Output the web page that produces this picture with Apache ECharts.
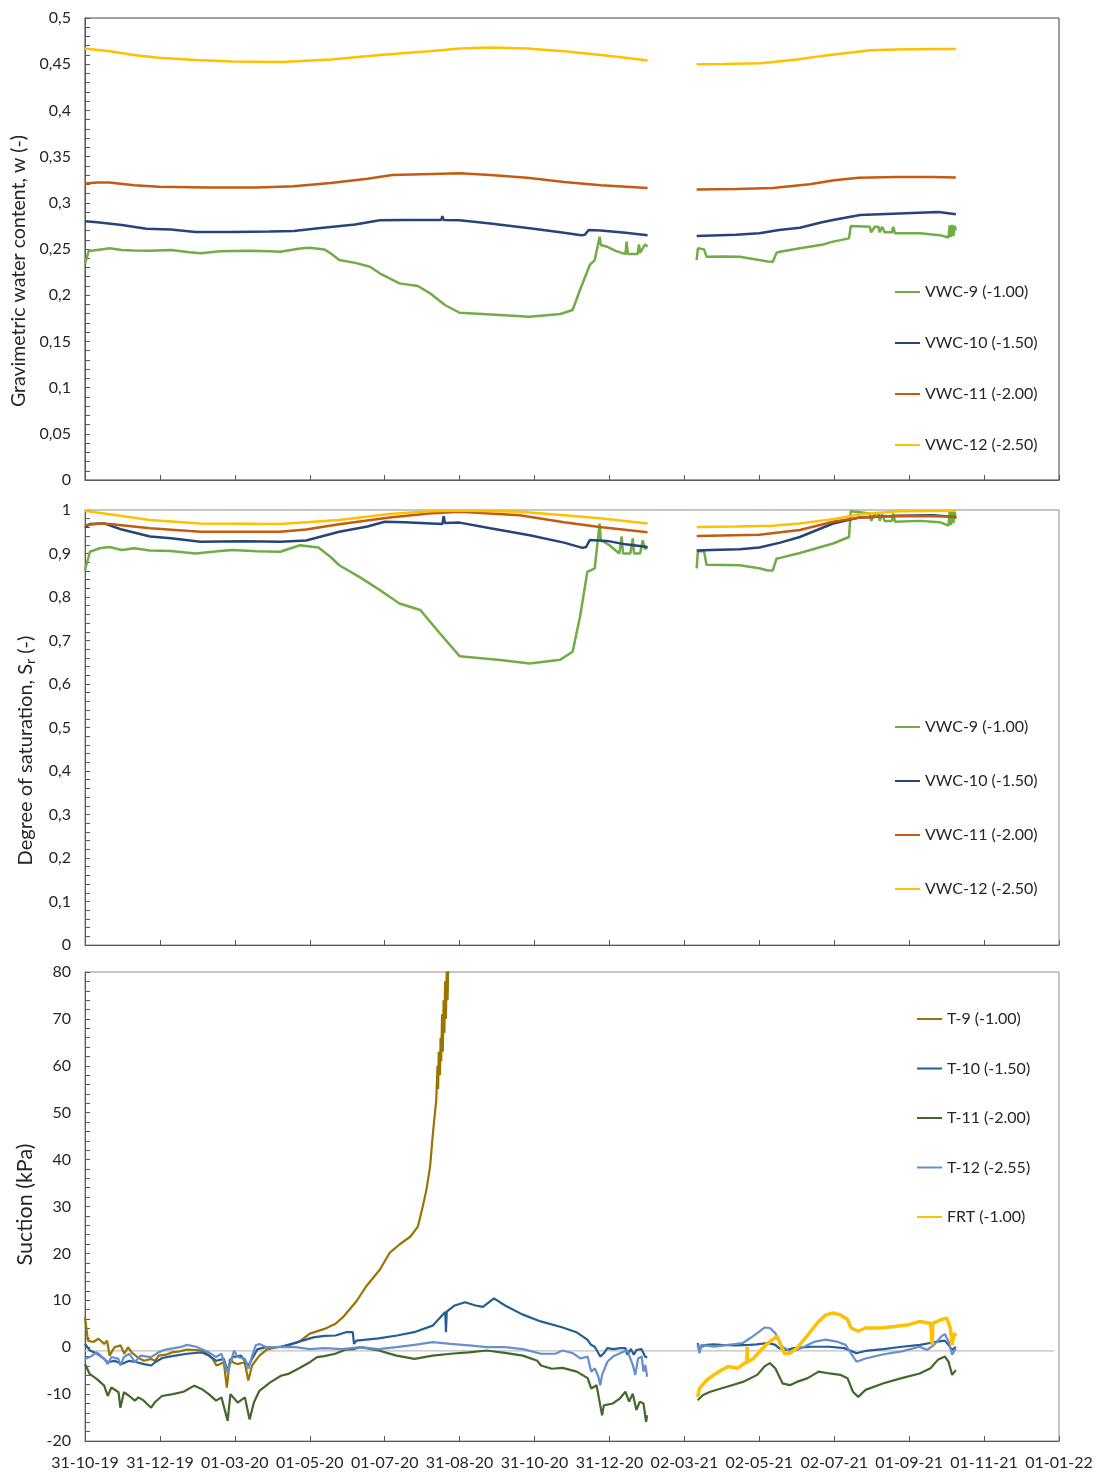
<!DOCTYPE html>
<html>
<head>
<meta charset="utf-8">
<title>Water content, saturation and suction</title>
<script src="https://cdn.jsdelivr.net/npm/echarts@6/dist/echarts.min.js"></script>
<style>
  html, body { margin: 0; padding: 0; background: #ffffff; }
  #chart { width: 1106px; height: 1475px; }
</style>
</head>
<body>
<div id="chart"></div>
<script>
// x values are days counted from 31-10-2019
const DAY0 = Date.UTC(2019, 9, 31);
const X_MAX = 793;          // 01-01-2022
const X_STEP = 61;          // tick spacing in days
const GAP_DAY = 478;        // logger outage between the two records

// ---- Gravimetric water content, w (-) : [day, w]
const wVWC9a = [[0,0.234],[3,0.2478],[10,0.249],[20,0.2507],[30,0.249],[40,0.2485],[53,0.248],[70,0.249],[85,0.2465],[94,0.2453],[110,0.2475],[134,0.248],[150,0.2475],[159,0.247],[175,0.2505],[183,0.2514],[195,0.2495],[200,0.2453],[207,0.238],[220,0.235],[232,0.2308],[240,0.2237],[256,0.2128],[271,0.21],[281,0.202],[293,0.1894],[305,0.181],[338,0.1785],[362,0.1767],[387,0.1796],[397,0.184],[403,0.2056],[411,0.2327],[415,0.238],[419,0.2633],[420,0.2543],[425,0.2525],[432,0.248],[440,0.2445],[441,0.258],[442,0.2445],[450,0.2445],[451,0.255],[452,0.246],[456,0.255],[458,0.2525]];
const wVWC9b = [[498,0.238],[499,0.2507],[504,0.2496],[506,0.2417],[520,0.242],[533,0.2417],[549,0.238],[556,0.2365],[560,0.2362],[563,0.246],[566,0.247],[582,0.2507],[600,0.2545],[609,0.258],[622,0.2615],[623.5,0.2748],[639,0.274],[640,0.268],[643,0.274],[646,0.274],[647,0.268],[649,0.274],[651,0.268],[657,0.268],[658,0.274],[659.5,0.267],[680,0.267],[696,0.265],[703,0.2625],[704,0.2755],[705,0.263],[706,0.276],[707,0.264],[708,0.275],[709,0.27]];
const wVWC10a = [[0,0.28],[10,0.279],[30,0.276],[50,0.272],[70,0.271],[90,0.2685],[120,0.2685],[150,0.269],[170,0.2695],[190,0.2725],[220,0.2765],[240,0.281],[260,0.2815],[290,0.2815],[291,0.2855],[292,0.2815],[305,0.2812],[330,0.2775],[362,0.2725],[390,0.2675],[404,0.265],[407,0.2655],[410,0.2705],[420,0.27],[440,0.2675],[458,0.265]];
const wVWC10b = [[498,0.264],[530,0.2655],[549,0.267],[565,0.2705],[582,0.273],[600,0.279],[609,0.2813],[631,0.2868],[663,0.2885],[695,0.29],[709,0.2875]];
const wVWC11a = [[0,0.321],[10,0.322],[20,0.322],[40,0.319],[60,0.3175],[100,0.3165],[140,0.3165],[170,0.318],[200,0.3215],[230,0.326],[250,0.33],[290,0.3315],[305,0.332],[330,0.33],[360,0.327],[390,0.3225],[420,0.319],[458,0.316]];
const wVWC11b = [[498,0.3145],[530,0.315],[560,0.316],[590,0.32],[610,0.3245],[630,0.327],[660,0.328],[690,0.328],[709,0.3275]];
const wVWC12a = [[0,0.467],[20,0.464],[40,0.46],[60,0.457],[90,0.4545],[120,0.453],[160,0.4525],[200,0.455],[240,0.46],[280,0.464],[305,0.467],[330,0.468],[360,0.467],[390,0.464],[420,0.46],[440,0.457],[458,0.454]];
const wVWC12b = [[498,0.45],[520,0.4502],[550,0.451],[580,0.455],[600,0.459],[620,0.462],[640,0.465],[660,0.466],[690,0.4665],[709,0.4665]];

// ---- Degree of saturation, Sr (-) : [day, Sr]
const srVWC9a = [[0,0.862],[4,0.904],[12,0.912],[20,0.915],[30,0.908],[40,0.912],[53,0.907],[70,0.906],[90,0.9],[110,0.906],[120,0.908],[140,0.905],[159,0.904],[175,0.919],[190,0.914],[200,0.892],[207,0.873],[224,0.845],[240,0.816],[256,0.785],[273,0.77],[289,0.716],[305,0.664],[338,0.655],[362,0.647],[387,0.656],[397,0.674],[403,0.754],[409,0.858],[415,0.866],[419,0.969],[420,0.931],[427,0.919],[435,0.9],[437,0.939],[438,0.9],[444,0.9],[446,0.935],[447,0.9],[452,0.9],[454,0.93],[456,0.91],[458,0.915]];
const srVWC9b = [[498,0.866],[499,0.905],[504,0.905],[506,0.874],[533,0.873],[549,0.866],[556,0.861],[560,0.861],[563,0.888],[566,0.89],[582,0.901],[609,0.923],[622,0.938],[623.5,0.997],[639,0.992],[640,0.975],[643,0.992],[646,0.992],[647,0.975],[649,0.99],[651,0.975],[657,0.975],[658,0.992],[659.5,0.973],[680,0.975],[696,0.972],[703,0.964],[704,0.998],[705,0.966],[706,0.995],[707,0.97],[708,0.995],[709,0.98]];
const srVWC10a = [[0,0.96],[4,0.968],[16,0.969],[30,0.955],[53,0.939],[70,0.935],[94,0.927],[130,0.928],[159,0.927],[180,0.93],[207,0.95],[230,0.962],[244,0.973],[260,0.972],[291,0.968],[292,0.986],[293,0.97],[305,0.971],[330,0.958],[362,0.942],[390,0.925],[405,0.913],[408,0.915],[411,0.931],[425,0.929],[440,0.921],[458,0.915]];
const srVWC10b = [[498,0.907],[510,0.908],[533,0.91],[549,0.914],[566,0.925],[582,0.938],[609,0.969],[631,0.983],[663,0.987],[690,0.988],[709,0.984]];
const srVWC11a = [[0,0.965],[12,0.969],[20,0.968],[53,0.958],[94,0.95],[159,0.95],[180,0.955],[207,0.967],[248,0.983],[280,0.992],[305,0.996],[354,0.988],[390,0.972],[419,0.961],[458,0.949]];
const srVWC11b = [[498,0.94],[549,0.943],[582,0.954],[609,0.973],[631,0.983],[663,0.986],[709,0.985]];
const srVWC12a = [[0,0.998],[20,0.99],[53,0.977],[94,0.969],[159,0.968],[207,0.977],[248,0.991],[280,0.997],[305,0.999],[354,0.996],[390,0.988],[419,0.981],[458,0.969]];
const srVWC12b = [[498,0.961],[530,0.962],[560,0.964],[582,0.969],[609,0.979],[631,0.99],[663,0.997],[709,0.998]];

// ---- Suction (kPa) : [day, s]
const sT9a = [[0,6.4],[1,6.1],[2.4,1.4],[6.8,1.1],[11,1.8],[15.6,0.7],[18,1.4],[20,-1.8],[24,0],[29,0.4],[32,-1.4],[35,0],[38,-1.1],[43,-2.2],[48,-2.9],[54,-2.5],[57,-2.9],[60,-1.8],[66,-1.6],[71,-1.1],[77,-0.9],[83,-0.5],[90,-0.6],[95,-0.7],[100,-1.5],[104,-2.5],[107,-3.9],[110,-3.6],[113,-3.2],[115.5,-8.6],[118,-2.5],[121,-3.3],[124,-3.6],[130,-3.2],[133,-7.1],[136,-3.9],[142,-1.8],[148,-0.5],[157,0],[166,0.4],[174,1.1],[183,2.9],[195,3.9],[204,5],[210,6.4],[221,9.8],[229,13],[240,16.5],[248,20.1],[256,21.9],[265,23.6],[271,25.7],[275,30],[278,33.6],[281,38.6],[283.3,45.7],[286,52.8],[287,60],[287.5,55],[288,63],[289,58],[289.5,66],[290,61],[290.7,71],[291.3,63],[292,74],[292.6,67],[293.2,78],[293.8,70],[294.5,80],[295.2,74],[296,86]];
const sT10a = [[0,0.7],[1,0.4],[4,-0.7],[10,-1.4],[15.6,-2.5],[18.5,-3.2],[24,-2.9],[30,-3.6],[36,-2.9],[42,-3.2],[48,-3.6],[54,-3.9],[57,-3.2],[63,-2.3],[71,-1.9],[83,-1.4],[95,-1.1],[101,-1.8],[107,-2.9],[113,-2.5],[116,-5],[120,-2.1],[127,-1.8],[133,-3.9],[136,-2.5],[140.5,-0.4],[148,0],[160,0.1],[168,0.7],[177,1.4],[186,2.1],[195,2.4],[204,2.5],[212.5,3.2],[218,3.2],[219,0.7],[221,1.4],[239,1.9],[254,2.5],[268,3.2],[283,4.6],[293.3,7.5],[293.9,3.2],[294.5,7.6],[301,8.9],[309.5,9.6],[318,8.9],[324,8.6],[333,10.4],[342,8.9],[356,7],[371,5.5],[389,4.2],[400,3.2],[409,1.6],[412,0.5],[415,0.1],[416.5,-0.6],[419.5,-2],[422.4,-1.3],[425.3,-0.2],[430,-0.4],[436,-0.2],[440,-0.2],[441.5,-1.6],[444.4,-0.4],[446.8,-1.6],[449,-0.6],[453,-0.4],[456,-2],[457.7,-2.2]];
const sT10b = [[498.8,0.9],[500.3,-0.6],[501.8,0.1],[506,0.5],[512,0.6],[518,0.5],[530,0.4],[541,0.5],[547,0.6],[556,0.9],[562,0.5],[565,-0.2],[571,-0.6],[577,-0.2],[591,0.1],[606,0.1],[618,-0.2],[624,-0.8],[628,-1.3],[635.5,-0.8],[650,-0.4],[665,0.1],[680,0.5],[688,0.9],[694,1.2],[700,1.4],[703,0.5],[706,-0.6],[709,0.1]];
const sT11a = [[0,-3.6],[3.8,-5.7],[9.7,-6.8],[15.6,-8.2],[18.5,-10.4],[21.5,-8.6],[27.3,-9.6],[28.8,-12.9],[31.7,-9.6],[36.1,-10.4],[40.6,-11.4],[43.5,-10.7],[47.9,-11.4],[53.8,-12.9],[56.7,-11.8],[62.6,-10.4],[71.4,-10],[80.2,-9.5],[89,-8.2],[94.9,-8.9],[100.8,-10],[106.7,-11.4],[111.1,-10.7],[116.1,-15.7],[118.4,-10],[124.3,-11.8],[130.2,-10.7],[134,-15.4],[137.5,-11.8],[142,-9.3],[150.8,-7.5],[159.6,-6.1],[165.5,-5.7],[174.3,-4.5],[183.1,-3.2],[189,-2.1],[194.9,-1.9],[203.7,-1.4],[212.5,-0.5],[218.4,-0.4],[224.2,0],[239,-0.7],[253.6,-1.8],[268.3,-2.5],[283,-1.8],[297.7,-1.4],[312.4,-1.1],[327.1,-0.7],[341.8,-1.2],[356.5,-1.8],[368.3,-2.9],[371.2,-3.9],[380,-4.6],[388.8,-4.4],[400.4,-5.2],[409.2,-6.6],[412.1,-8.8],[416.5,-8.1],[419.5,-12.4],[421,-14.5],[422.4,-12.4],[429.8,-12],[435.6,-10.9],[440,-9.5],[443,-11.6],[446,-9.9],[448.9,-13.4],[451.8,-11.6],[454.7,-12],[456.8,-15.9],[457.7,-14.5]];
const sT11b = [[498.8,-11.3],[503.2,-10.2],[509.1,-9.5],[517.9,-8.8],[526.7,-8.1],[535.6,-7.4],[547.3,-5.9],[553.2,-4.1],[557.6,-3.4],[562,-4.5],[567.9,-7.7],[573.8,-8.1],[579.6,-7.4],[588.4,-6.6],[597.3,-5.2],[606.1,-5.6],[614.9,-5.9],[620.8,-6.6],[625.2,-9.5],[629.6,-10.6],[635.5,-9.1],[650.2,-7.7],[664.9,-6.6],[679.6,-5.6],[688.4,-4.5],[694.3,-2.7],[700.1,-2],[703.1,-3.1],[706,-5.9],[709,-4.9]];
const sT12a = [[0,-2.5],[3.8,-2.1],[9.7,-1.1],[15.6,-2.5],[18.5,-3.6],[21.5,-2.1],[27.3,-2.5],[28.8,-3.9],[31.7,-2.1],[36.1,-1.4],[40.6,-3.2],[45,-1.8],[53.8,-2.1],[59.7,-1.1],[65.5,-0.5],[77.3,0],[83.2,0.5],[90.5,0.1],[100.8,-1.1],[106.7,-2.1],[111.1,-1.4],[116.1,-5.5],[121.4,-0.7],[124.3,-2.1],[130.2,-2.5],[133.1,-4.6],[136.1,-1.8],[139,0.4],[142,0.7],[147.8,0],[159.6,0],[171.3,0],[183.1,-0.4],[194.9,-0.2],[209.5,-0.4],[224.2,0],[239,-0.4],[253.6,0],[268.3,0.5],[283,1.1],[297.7,0.7],[312.4,0.4],[327.1,0],[341.8,0],[356.5,-0.4],[371.2,-1.4],[383,-1.4],[388.8,-0.7],[397.4,-1.3],[403.3,-2.4],[409.2,-2],[412.1,-5.2],[415.1,-4.5],[418,-6.3],[419.5,-8.1],[421,-5.9],[425.3,-3.1],[429.8,-2],[435.6,-1.3],[441.5,-0.6],[446,-3.8],[448,-5.9],[450.3,-2.4],[453.3,-2],[454.7,-5.2],[456.2,-3.8],[457.7,-6.3]];
const sT12b = [[498.8,0.5],[500.3,-1.3],[501.8,0.5],[512,0.1],[523.8,0.5],[535.6,0.9],[541.4,1.9],[547.3,3],[553.2,4.2],[557.6,4.1],[562,3],[567.9,0.1],[573.8,-0.9],[579.6,-0.6],[585.5,0.1],[594.3,1.2],[603.2,1.6],[612,1.2],[619.3,0.5],[623.7,-1.3],[628.1,-3.1],[635.5,-2.4],[650.2,-1.5],[664.9,-0.9],[679.6,0.1],[685.4,-0.6],[691.3,0.5],[697.2,2.3],[700.1,2.8],[703.1,1.2],[706,-1.6],[709,-0.2]];
const sFRTb = [[498.8,-10.6],[500.3,-8.8],[506.2,-7],[512,-5.9],[517.9,-4.9],[523.8,-4.1],[531.2,-4.5],[537,-3.4],[538.8,-3.2],[539.1,0.1],[539.4,-3.1],[544.4,-2.4],[550.3,-0.6],[556.1,0.9],[563.5,2.3],[566.4,0.5],[569.4,-1.3],[573.8,-1.3],[579.6,-0.2],[588.4,2.6],[597.3,5.5],[603.2,6.9],[609,7.3],[614.9,6.9],[620.8,5.9],[623.7,4.1],[629.6,3.4],[635.5,4.1],[647.2,4.1],[659,4.4],[670.8,4.8],[679.6,5.5],[688.4,5.1],[689.5,5.2],[689.9,0.5],[690.2,5.1],[697.2,5.9],[701.6,6.2],[704.5,4.1],[706,0.5],[707.5,3],[709,2.3]];

// grey reference level in the suction panel
const REF_LEVEL = -0.8;
const REF_DAYS = [0, 789];

const FONT = 'Lato';
const TEXT = '#262626';
const AXIS = '#595959';

function joined(a, b) { return a.concat([[GAP_DAY, null]], b); }
function pad2(n) { return (n < 10 ? '0' : '') + n; }
function dayLabel(d) {
  const t = new Date(DAY0 + Math.round(d) * 86400000);
  return pad2(t.getUTCDate()) + '-' + pad2(t.getUTCMonth() + 1) + '-' + pad2(t.getUTCFullYear() % 100);
}
function decimalComma(v) { return String(+v.toFixed(2)).replace('.', ','); }

const grids = [
  { left: 85, top: 18, width: 974, height: 462, show: true, borderColor: '#404040', borderWidth: 1 },
  { left: 85, top: 510, width: 974, height: 435, show: true, borderColor: '#8c8c8c', borderWidth: 1 },
  { left: 85, top: 972, width: 974, height: 469, show: true, borderColor: '#8c8c8c', borderWidth: 1 }
];

function xAxisFor(i) {
  return {
    type: 'value', gridIndex: i, min: 0, max: X_MAX, interval: X_STEP,
    axisLine: { show: true, onZero: false, lineStyle: { color: AXIS, width: 1 } },
    axisTick: { show: true, inside: true, length: 5, lineStyle: { color: AXIS } },
    axisLabel: {
      show: i === 2, margin: 14, fontFamily: FONT, fontSize: 16, color: TEXT,
      showMinLabel: true, showMaxLabel: true, formatter: dayLabel
    },
    splitLine: { show: false }
  };
}

// namePad shifts the rotated title along the axis (right padding moves it down)
function yAxisFor(i, min, max, step, name, gap, size, namePad, rich) {
  return {
    type: 'value', gridIndex: i, min: min, max: max, interval: step,
    axisLine: { show: true, onZero: false, lineStyle: { color: AXIS, width: 1 } },
    axisTick: { show: true, inside: true, length: 5, lineStyle: { color: AXIS } },
    minorTick: { show: true, splitNumber: 5, length: 5, lineStyle: { color: AXIS } },
    axisLabel: { margin: 14, fontFamily: FONT, fontSize: 16, color: TEXT, formatter: decimalComma },
    splitLine: { show: false },
    name: name, nameLocation: 'middle', nameGap: gap,
    nameTextStyle: { fontFamily: FONT, fontSize: size, color: TEXT, padding: namePad, rich: rich }
  };
}

function line(name, data, color, width, xi) {
  return {
    type: 'line', name: name, data: data, xAxisIndex: xi, yAxisIndex: xi,
    symbol: 'none', showSymbol: false, connectNulls: false, clip: true,
    lineStyle: { color: color, width: width }, itemStyle: { color: color },
    emphasis: { disabled: true }
  };
}

const C = {
  vwc9: '#70AD47', vwc10: '#264478', vwc11: '#C55A11', vwc12: '#FFC000',
  t9: '#9A7400', t10: '#255E91', t11: '#43682B', t12: '#698ED0', frt: '#FFC000'
};

const N = {
  vwc9: 'VWC-9 (-1.00)', vwc10: 'VWC-10 (-1.50)', vwc11: 'VWC-11 (-2.00)', vwc12: 'VWC-12 (-2.50)',
  t9: 'T-9 (-1.00)', t10: 'T-10 (-1.50)', t11: 'T-11 (-2.00)', t12: 'T-12 (-2.55)', frt: 'FRT (-1.00)'
};

function legendAt(left, top, gap, names) {
  return {
    orient: 'vertical', left: left, top: top, itemGap: gap,
    itemWidth: 25, itemHeight: 14, icon: 'path://M0,6 L25,6 L25,8 L0,8 Z',
    textStyle: { fontFamily: FONT, fontSize: 16, color: TEXT, lineHeight: 16 },
    data: names, selectedMode: false
  };
}

const option = {
  animation: false,
  backgroundColor: '#ffffff',
  grid: grids,
  xAxis: [xAxisFor(0), xAxisFor(1), xAxisFor(2)],
  yAxis: [
    yAxisFor(0, 0, 0.5, 0.05, 'Gravimetric water content, w (-)', 53, 19.5, [0, 44, 0, 0]),
    yAxisFor(1, 0, 1, 0.1, 'Degree of saturation, S{sub|r} (-)', 47, 20, [0, 46, 0, 0],
      { sub: { fontFamily: FONT, fontSize: 14, color: TEXT, padding: [10, 0, 0, 0] } }),
    yAxisFor(2, -20, 80, 10, 'Suction (kPa)', 47, 21.5, [0, 0, 0, 4])
  ],
  legend: [
    legendAt(890, 279, 35, [N.vwc9, N.vwc10, N.vwc11, N.vwc12]),
    legendAt(890, 714, 38, [N.vwc9, N.vwc10, N.vwc11, N.vwc12]),
    legendAt(912, 1006, 33.5, [N.t9, N.t10, N.t11, N.t12, N.frt])
  ],
  series: [
    line(N.vwc9, joined(wVWC9a, wVWC9b), C.vwc9, 2.5, 0),
    line(N.vwc10, joined(wVWC10a, wVWC10b), C.vwc10, 2.5, 0),
    line(N.vwc11, joined(wVWC11a, wVWC11b), C.vwc11, 2.5, 0),
    line(N.vwc12, joined(wVWC12a, wVWC12b), C.vwc12, 2.5, 0),

    line(N.vwc9, joined(srVWC9a, srVWC9b), C.vwc9, 2.5, 1),
    line(N.vwc10, joined(srVWC10a, srVWC10b), C.vwc10, 2.5, 1),
    line(N.vwc11, joined(srVWC11a, srVWC11b), C.vwc11, 2.5, 1),
    line(N.vwc12, joined(srVWC12a, srVWC12b), C.vwc12, 2.5, 1),

    Object.assign(line('ref', REF_DAYS.map(d => [d, REF_LEVEL]), '#bfbfbf', 1.2, 2), { silent: true }),
    line(N.t9, sT9a, C.t9, 2.2, 2),
    line(N.t10, joined(sT10a, sT10b), C.t10, 2.2, 2),
    line(N.t11, joined(sT11a, sT11b), C.t11, 2.2, 2),
    line(N.t12, joined(sT12a, sT12b), C.t12, 2.2, 2),
    line(N.frt, sFRTb, C.frt, 3.5, 2)
  ]
};

const chart = echarts.init(document.getElementById('chart'), null, { renderer: 'canvas' });
chart.setOption(option);
</script>
</body>
</html>
